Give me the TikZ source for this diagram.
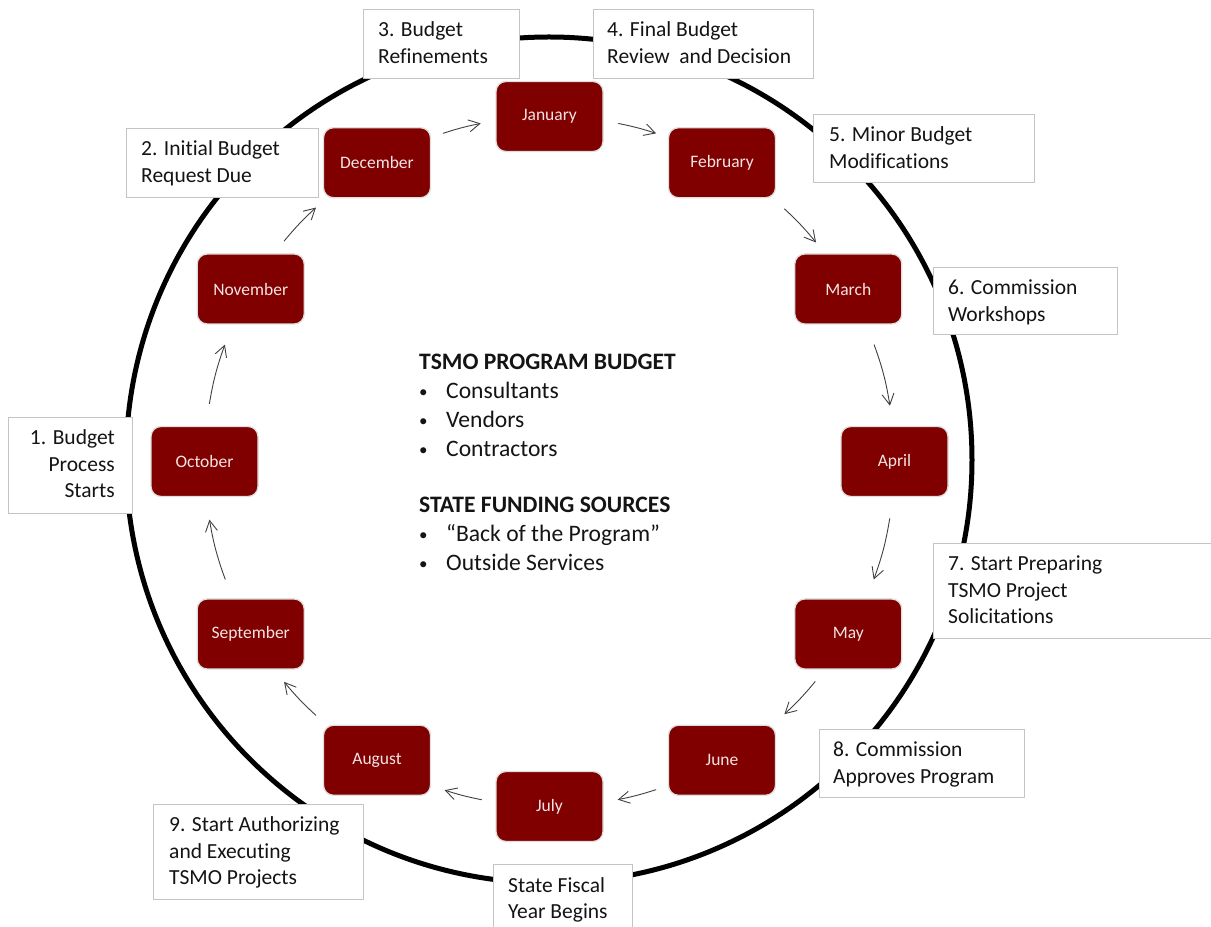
\documentclass[tikz,border=0pt]{standalone}
\usepackage{fontspec}
\setmainfont{Carlito}[Ligatures=NoCommon]
\usetikzlibrary{arrows.meta}
\definecolor{maroonfill}{RGB}{128,0,0}
\definecolor{monthtxt}{RGB}{242,228,228}
\definecolor{boxline}{RGB}{196,196,196}
\definecolor{arrowgray}{RGB}{64,64,64}
\newcommand{\bul}{\makebox[27pt][l]{\fontsize{17}{17}\selectfont\raisebox{1.8pt}{\textbullet}}}
\begin{document}
\begin{tikzpicture}[x=1pt,y=1pt,
  month/.style={draw=black!13, line width=1.3pt, fill=maroonfill, rounded corners=10pt,
    minimum width=107pt, minimum height=70pt, inner sep=0pt, text=monthtxt,
    font=\fontsize{17.5}{21}\selectfont},
  lbox/.style={draw=boxline, line width=0.8pt, fill=white, inner sep=0pt, anchor=north west},
  ltext/.style={inner sep=0pt, anchor=base west, align=left, text=black!92,
    font=\fontsize{21.5}{26.5}\selectfont},
  cyc/.style={draw=arrowgray, line width=0.9pt, -{Straight Barb[length=11pt,width=12pt]}},
  ring/.style={line width=5pt, draw=black}]
\useasboundingbox (0,0) rectangle (1211,927);
\clip (0,0) rectangle (1211,927);
\coordinate (C) at (549.5,465.5);
\coordinate (R) at (549,467);
\draw[ring] (R) circle[radius=423];

% label boxes (text anchor = baseline of last line)
\node[lbox, minimum width=124pt, minimum height=96pt] (b1) at (8,510) {};
\node[ltext, anchor=base east, align=right] (t1) at (115,429) {1. Budget\\Process\\Starts};
\node[lbox, minimum width=192pt, minimum height=69pt] (b2) at (126,799) {};
\node[ltext] (t2) at (141,744.5) {2. Initial Budget\\Request Due};
\node[lbox, minimum width=156pt, minimum height=69pt] (b3) at (363,918) {};
\node[ltext] (t3) at (378,863.5) {3. Budget\\Refinements};
\node[lbox, minimum width=220pt, minimum height=69pt] (b4) at (593,918) {};
\node[ltext] (t4) at (607,863.5) {4. Final Budget\\Review\ \ and Decision};
\node[lbox, minimum width=221pt, minimum height=68pt] (b5) at (813,813) {};
\node[ltext] (t5) at (829,758.5) {5. Minor Budget\\Modifications};
\node[lbox, minimum width=184pt, minimum height=67pt] (b6) at (933,660) {};
\node[ltext] (t6) at (948,605.5) {6. Commission\\Workshops};
\node[lbox, minimum width=285pt, minimum height=95pt] (b7) at (933,384) {};
\node[ltext] (t7) at (948,303) {7. Start Preparing\\TSMO Project\\Solicitations};
\node[lbox, minimum width=205pt, minimum height=68pt] (b8) at (819,198) {};
\node[ltext] (t8) at (833,143.5) {8. Commission\\Approves Program};
\node[lbox, minimum width=210pt, minimum height=95pt] (b9) at (153,123) {};
\node[ltext] (t9) at (169,42) {9. Start Authorizing\\and Executing\\TSMO Projects};
\node[lbox, minimum width=139pt, minimum height=80pt] (bs) at (493,63) {};
\node[ltext] (ts) at (508,8.5) {State Fiscal\\Year Begins};

% centre text
\node[anchor=base west, align=left, inner sep=0pt, text=black!92,
  font=\fontsize{23.6}{29}\selectfont] (prog) at (419,356)
  {\textbf{TSMO PROGRAM BUDGET}\\ \bul Consultants\\ \bul Vendors\\ \bul Contractors\\[27pt]
   \textbf{STATE FUNDING SOURCES}\\ \bul “Back of the Program”\\ \bul Outside Services};

% months
\foreach \n/\a in {January/90, February/60, March/30, April/0, May/-30, June/-60,
  July/-90, August/-120, September/-150, October/180, November/150, December/120}
  \node[month] (m-\n) at ([shift={(\a:345)}]C) {\n};

% cycle arrows
\foreach \i/\s/\e in {1/108/101.5, 2/78.5/72, 3/47.1/39.4, 4/19.8/9.3, 5/-9.5/-20,
  6/-39.6/-47.1, 7/-72/-78.6, 8/-101.3/-107.7, 9/-132.6/-140.3, 10/-160/-170.3,
  11/170.4/160.2, 12/140.3/132.6} {
  \coordinate (a\i-s) at ([shift={(\s:345)}]C);
  \coordinate (a\i-e) at ([shift={(\e:345)}]C);
  \pgfmathsetmacro\bnd{(\s-\e)/2}
  \draw[cyc] (a\i-s) to[bend left=\bnd] (a\i-e);
}
\end{tikzpicture}
\end{document}
